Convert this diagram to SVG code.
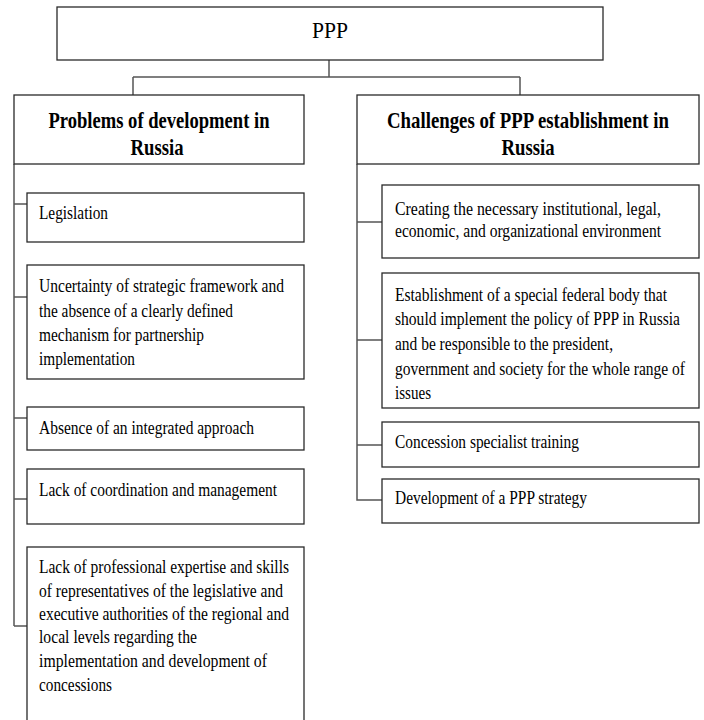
<svg xmlns="http://www.w3.org/2000/svg" width="704" height="720" viewBox="0 0 704 720">
<style>
.box{fill:#fff;stroke:#2a2a2a;stroke-width:1.3}
.con{fill:none;stroke:#555;stroke-width:1.5}
text{font-family:"Liberation Serif","Times New Roman",serif;fill:#000}
.t{font-size:18px}
.h{font-size:23px;font-weight:bold;text-anchor:middle}
.p{font-size:23px;text-anchor:middle}
</style>
<rect width="704" height="720" fill="#fff"/>
<g id="connectors">
<path class="con" d="M329,60V77M133,77H520M133,77V95M520,77V95"/>
<path class="con" d="M14,164V626M14,204H27M14,297H27M14,418H27M14,499H27M14,626H27"/>
<path class="con" d="M357,164V500H382M357,222H382M357,340H382M357,445H382"/>
</g>
<g id="ppp">
<rect class="box" x="57" y="7" width="546" height="53"/>
<text class="p" x="330" y="38" textLength="36" lengthAdjust="spacingAndGlyphs">PPP</text>
</g>
<g id="problems">
<rect class="box" x="14" y="95" width="290" height="69"/>
<text class="h" x="159" y="128" textLength="221" lengthAdjust="spacingAndGlyphs">Problems of development in</text>
<text class="h" x="157" y="155" textLength="53" lengthAdjust="spacingAndGlyphs">Russia</text>
</g>
<g id="challenges">
<rect class="box" x="357" y="95" width="342" height="69"/>
<text class="h" x="528" y="128" textLength="282" lengthAdjust="spacingAndGlyphs">Challenges of PPP establishment in</text>
<text class="h" x="528" y="155" textLength="53" lengthAdjust="spacingAndGlyphs">Russia</text>
</g>
<g id="legislation">
<rect class="box" x="27" y="193" width="277" height="49"/>
<text class="t" x="39" y="219" textLength="69" lengthAdjust="spacingAndGlyphs">Legislation</text>
</g>
<g id="uncertainty">
<rect class="box" x="27" y="265" width="277" height="114"/>
<text class="t" x="39" y="292" textLength="245" lengthAdjust="spacingAndGlyphs">Uncertainty of strategic framework and</text>
<text class="t" x="39" y="317" textLength="194" lengthAdjust="spacingAndGlyphs">the absence of a clearly defined</text>
<text class="t" x="39" y="341" textLength="165" lengthAdjust="spacingAndGlyphs">mechanism for partnership</text>
<text class="t" x="39" y="365" textLength="96" lengthAdjust="spacingAndGlyphs">implementation</text>
</g>
<g id="absence">
<rect class="box" x="27" y="407" width="277" height="43"/>
<text class="t" x="39" y="434" textLength="215" lengthAdjust="spacingAndGlyphs">Absence of an integrated approach</text>
</g>
<g id="coordination">
<rect class="box" x="27" y="469" width="277" height="55"/>
<text class="t" x="39" y="496" textLength="238" lengthAdjust="spacingAndGlyphs">Lack of coordination and management</text>
</g>
<g id="expertise">
<rect class="box" x="27" y="547" width="277" height="180"/>
<text class="t" x="39" y="573" textLength="250" lengthAdjust="spacingAndGlyphs">Lack of professional expertise and skills</text>
<text class="t" x="39" y="597" textLength="244" lengthAdjust="spacingAndGlyphs">of representatives of the legislative and</text>
<text class="t" x="39" y="620" textLength="250" lengthAdjust="spacingAndGlyphs">executive authorities of the regional and</text>
<text class="t" x="39" y="643" textLength="158" lengthAdjust="spacingAndGlyphs">local levels regarding the</text>
<text class="t" x="39" y="667" textLength="228" lengthAdjust="spacingAndGlyphs">implementation and development of</text>
<text class="t" x="39" y="691" textLength="73" lengthAdjust="spacingAndGlyphs">concessions</text>
</g>
<g id="creating">
<rect class="box" x="382" y="185" width="317" height="73"/>
<text class="t" x="395" y="215" textLength="266" lengthAdjust="spacingAndGlyphs">Creating the necessary institutional, legal,</text>
<text class="t" x="395" y="237" textLength="266" lengthAdjust="spacingAndGlyphs">economic, and organizational environment</text>
</g>
<g id="federal">
<rect class="box" x="382" y="273" width="317" height="135"/>
<text class="t" x="395" y="301" textLength="272" lengthAdjust="spacingAndGlyphs">Establishment of a special federal body that</text>
<text class="t" x="395" y="325" textLength="285" lengthAdjust="spacingAndGlyphs">should implement the policy of PPP in Russia</text>
<text class="t" x="395" y="350" textLength="218" lengthAdjust="spacingAndGlyphs">and be responsible to the president,</text>
<text class="t" x="395" y="375" textLength="290" lengthAdjust="spacingAndGlyphs">government and society for the whole range of</text>
<text class="t" x="395" y="399" textLength="36" lengthAdjust="spacingAndGlyphs">issues</text>
</g>
<g id="training">
<rect class="box" x="382" y="422" width="317" height="45"/>
<text class="t" x="395" y="448" textLength="184" lengthAdjust="spacingAndGlyphs">Concession specialist training</text>
</g>
<g id="strategy">
<rect class="box" x="382" y="479" width="317" height="44"/>
<text class="t" x="395" y="504" textLength="192" lengthAdjust="spacingAndGlyphs">Development of a PPP strategy</text>
</g>
</svg>
